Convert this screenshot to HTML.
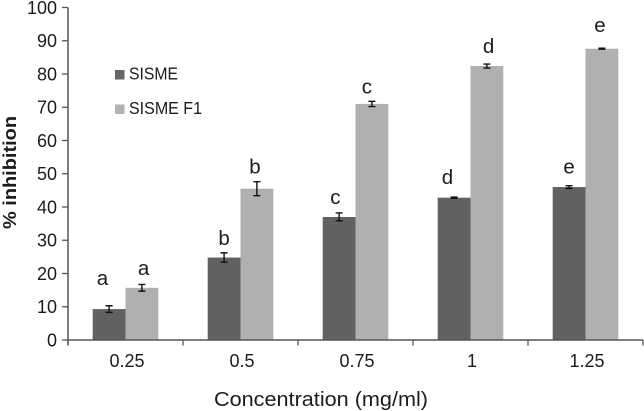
<!DOCTYPE html>
<html>
<head>
<meta charset="utf-8">
<style>
html,body{margin:0;padding:0;background:#fff;width:644px;height:411px;overflow:hidden}
svg{display:block}
text{font-family:"Liberation Sans",sans-serif;fill:#1c1c1c}
</style>
</head>
<body>
<svg id="chart" width="644" height="411" viewBox="0 0 644 411" xmlns="http://www.w3.org/2000/svg">
  <g id="bars"></g>
  <g id="errors"></g>
  <g id="letters"></g>
  <g id="axes"></g>
  <g>
    <rect x="115" y="70" width="9.5" height="9.5" fill="#666666"/>
    <text x="129" y="79.5" font-size="17.5" textLength="49" lengthAdjust="spacingAndGlyphs">SISME</text>
    <rect x="115" y="104.5" width="9.5" height="9.5" fill="#b3b3b3"/>
    <text x="129" y="114" font-size="17.5" textLength="73" lengthAdjust="spacingAndGlyphs">SISME F1</text>
  </g>
  <text x="214" y="406" font-size="20.5" textLength="214" lengthAdjust="spacingAndGlyphs">Concentration (mg/ml)</text>
  <text transform="translate(16,229) rotate(-90)" font-size="18.5" font-weight="bold" textLength="113" lengthAdjust="spacingAndGlyphs">% inhibition</text>
</svg>
<script>
const categories = ['0.25', '0.5', '0.75', '1', '1.25'];
const sismeValues = [9.3, 24.8, 37, 42.8, 46];
const sismeErrors = [1, 1.4, 1.2, 0.2, 0.4];
const sismeF1Values = [15.7, 45.5, 71, 82.4, 87.6];
const sismeF1Errors = [1, 2.1, 0.8, 0.6, 0.15];
const sismeLetters = ['a', 'b', 'c', 'd', 'e'];
const sismeF1Letters = ['a', 'b', 'c', 'd', 'e'];
const yTicks = [0, 10, 20, 30, 40, 50, 60, 70, 80, 90, 100];

const NS = 'http://www.w3.org/2000/svg';
const X0 = 68, X1 = 643, Y0 = 340, Y100 = 7.5;
const BAR_W = 32.8;
const AXIS = '#565656';
const bandW = (X1 - X0) / categories.length;
const xBand = i => X0 + bandW * i;
const xCenter = i => xBand(i) + bandW / 2;
const yScale = v => Y0 - (v / 100) * (Y0 - Y100);

function make(parent, tag, attrs) {
  const el = document.createElementNS(NS, tag);
  for (const k in attrs) el.setAttribute(k, attrs[k]);
  document.getElementById(parent).appendChild(el);
  return el;
}

// small hand-placement nudges for the letters (layout only, in px)
const letterNudge = {
  sisme: [[-6.7, 21], [0, 8], [-3.7, 9], [-6.7, 13], [0, 12]],
  f1: [[1.7, 9.5], [-2, 8], [-5, 8], [1.7, 11], [-2, 16]]
};

function drawSeries(key, values, errors, letters, offset, color) {
  values.forEach((v, i) => {
    const cx = xCenter(i) + offset;
    const bar = make('bars', 'rect', {
      x: cx - BAR_W / 2, y: yScale(v), width: BAR_W, height: Y0 - yScale(v), fill: color
    });
    
    

    const top = yScale(v + errors[i]), bot = yScale(v - errors[i]);
    const err = make('errors', 'path', {
      d: 'M' + (cx - 3.5) + ' ' + top + 'H' + (cx + 3.5) +
         'M' + cx + ' ' + top + 'V' + bot +
         'M' + (cx - 3.5) + ' ' + bot + 'H' + (cx + 3.5),
      stroke: '#111', 'stroke-width': 1.4, fill: 'none'
    });
    
    

    const n = letterNudge[key][i];
    const t = make('letters', 'text', {
      x: cx + n[0], y: top - n[1], 'font-size': 20.5, 'text-anchor': 'middle'
    });
    t.textContent = letters[i];
    
    
  });
}

drawSeries('sisme', sismeValues, sismeErrors, sismeLetters, -BAR_W / 2, '#616161');
drawSeries('f1', sismeF1Values, sismeF1Errors, sismeF1Letters, BAR_W / 2, '#b0b0b0');

// axes
const yLine = make('axes', 'line', { x1: X0, x2: X0, y1: Y100, y2: Y0 + 5, stroke: AXIS, 'stroke-width': 1.5 });


const xLine = make('axes', 'line', { x1: X0, x2: X1, y1: Y0, y2: Y0, stroke: AXIS, 'stroke-width': 1.5 });



yTicks.forEach(v => {
  const tick = make('axes', 'line', { x1: X0 - 6, x2: X0, y1: yScale(v), y2: yScale(v), stroke: AXIS, 'stroke-width': 1.3 });
  
  
  const label = make('axes', 'text', { x: 57, y: yScale(v) + 6.4, 'font-size': 18, 'text-anchor': 'end' });
  label.textContent = v;
  
  
});

categories.forEach((c, i) => {
  const label = make('axes', 'text', { x: xCenter(i) + 1.5, y: 367, 'font-size': 18, 'text-anchor': 'middle' });
  label.textContent = c;
  
  
});
for (let i = 0; i <= categories.length; i++) {
  const tick = make('axes', 'line', { x1: xBand(i), x2: xBand(i), y1: Y0, y2: Y0 + 5.5, stroke: AXIS, 'stroke-width': 1.3 });
  
  
}
</script>
</body>
</html>
